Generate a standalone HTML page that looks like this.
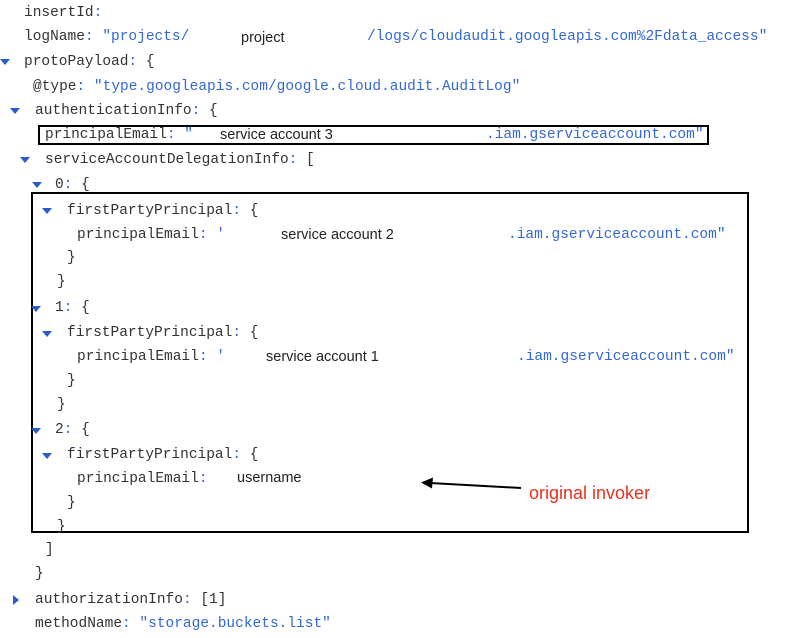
<!DOCTYPE html>
<html><head><meta charset="utf-8"><style>
html,body{margin:0;padding:0;background:#fff;}
body{width:808px;height:638px;position:relative;overflow:hidden;}
.l{position:absolute;font-family:"Liberation Mono",monospace;font-size:14.5px;line-height:18px;white-space:pre;color:#333;}
.b{color:#3367d6;}
.s{position:absolute;font-family:"Liberation Sans",sans-serif;font-size:14.5px;line-height:18px;color:#222;white-space:pre;}
.t{position:absolute;width:0;height:0;border-left:5px solid transparent;border-right:5px solid transparent;border-top:6px solid #2a5bc6;}
.tr{position:absolute;width:0;height:0;border-top:5px solid transparent;border-bottom:5px solid transparent;border-left:6px solid #2a5bc6;}
.box{position:absolute;border:2px solid #000;box-sizing:border-box;}
</style></head><body>
<div class="l" style="left:24px;top:4px">insertId<span class="b">:</span></div>
<div class="l" style="left:24px;top:28px">logName<span class="b">: "projects/</span></div>
<div class="s" style="left:241px;top:29px">project</div>
<div class="l b" style="left:367px;top:28px">/logs/cloudaudit.googleapis.com%2Fdata_access"</div>
<div class="t" style="left:0px;top:59px"></div>
<div class="l" style="left:24px;top:53px">protoPayload<span class="b">:</span> {</div>
<div class="l" style="left:33px;top:78px">@type<span class="b">: "type.googleapis.com/google.cloud.audit.AuditLog"</span></div>
<div class="t" style="left:10px;top:108px"></div>
<div class="l" style="left:35px;top:102px">authenticationInfo<span class="b">:</span> {</div>
<div class="box" style="left:38px;top:125px;width:671px;height:20px"></div>
<div class="l" style="left:45px;top:126px">principalEmail<span class="b">: "</span></div>
<div class="s" style="left:220px;top:126px">service account 3</div>
<div class="l b" style="left:486px;top:126px">.iam.gserviceaccount.com"</div>
<div class="t" style="left:20px;top:157px"></div>
<div class="l" style="left:45px;top:151px">serviceAccountDelegationInfo<span class="b">:</span> [</div>
<div class="t" style="left:32px;top:182px"></div>
<div class="l" style="left:55px;top:176px">0<span class="b">:</span> {</div>
<div class="box" style="left:31px;top:192px;width:718px;height:341px"></div>

<div class="t" style="left:42px;top:208px"></div>
<div class="l" style="left:67px;top:202px">firstPartyPrincipal<span class="b">:</span> {</div>
<div class="l" style="left:77px;top:226px">principalEmail<span class="b">: '</span></div>
<div class="s" style="left:281px;top:226px">service account 2</div>
<div class="l b" style="left:508px;top:226px">.iam.gserviceaccount.com"</div>
<div class="l" style="left:67px;top:249px">}</div>
<div class="l" style="left:57px;top:273px">}</div>

<div class="t" style="left:31px;top:306px"></div>
<div class="l" style="left:55px;top:299px">1<span class="b">:</span> {</div>
<div class="t" style="left:42px;top:331px"></div>
<div class="l" style="left:67px;top:324px">firstPartyPrincipal<span class="b">:</span> {</div>
<div class="l" style="left:77px;top:348px">principalEmail<span class="b">: '</span></div>
<div class="s" style="left:266px;top:348px">service account 1</div>
<div class="l b" style="left:517px;top:348px">.iam.gserviceaccount.com"</div>
<div class="l" style="left:67px;top:372px">}</div>
<div class="l" style="left:57px;top:396px">}</div>

<div class="t" style="left:31px;top:428px"></div>
<div class="l" style="left:55px;top:421px">2<span class="b">:</span> {</div>
<div class="t" style="left:42px;top:453px"></div>
<div class="l" style="left:67px;top:446px">firstPartyPrincipal<span class="b">:</span> {</div>
<div class="l" style="left:77px;top:470px">principalEmail<span class="b">:</span></div>
<div class="s" style="left:237px;top:469px">username</div>
<div class="l" style="left:67px;top:494px">}</div>
<div class="l" style="left:57px;top:518px">}</div>
<div class="l" style="left:45px;top:541px">]</div>
<div class="l" style="left:35px;top:565px">}</div>
<div class="tr" style="left:13px;top:595px"></div>
<div class="l" style="left:35px;top:591px">authorizationInfo<span class="b">:</span> [1]</div>
<div class="l" style="left:35px;top:615px">methodName<span class="b">: "storage.buckets.list"</span></div>

<svg style="position:absolute;left:0;top:0" width="808" height="638">
<line x1="521" y1="488" x2="430" y2="483" stroke="#000" stroke-width="2"/>
<polygon points="421,482.5 433,477.5 432,488.5" fill="#000"/>
</svg>
<div style="position:absolute;left:529px;top:482px;font-family:'Liberation Sans',sans-serif;font-size:18px;line-height:22px;color:#e8321e;white-space:pre">original invoker</div>
</body></html>
